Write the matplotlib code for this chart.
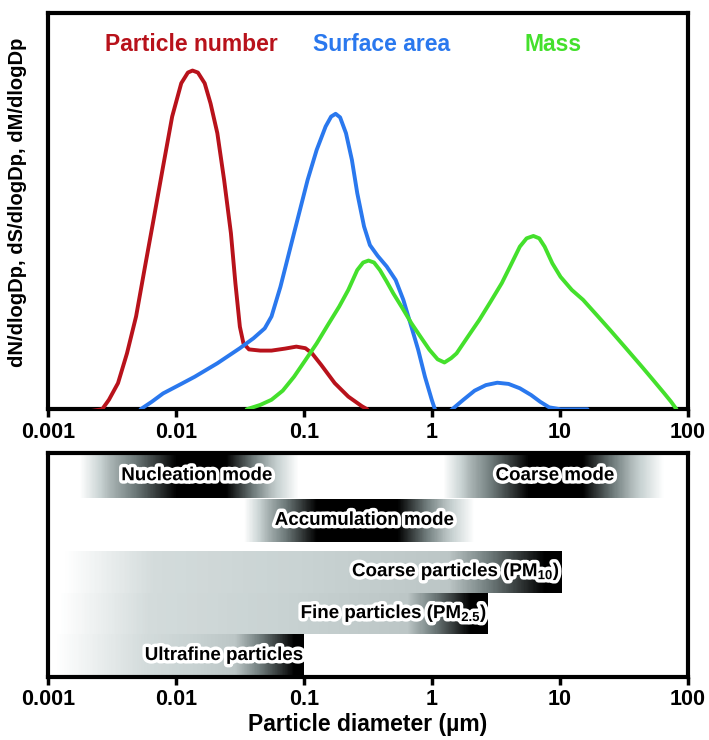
import numpy as np
import matplotlib
matplotlib.use('Agg')
import matplotlib.pyplot as plt
from matplotlib.colors import LinearSegmentedColormap
import matplotlib.patheffects as pe

plt.rcParams['font.family'] = ['Liberation Sans', 'DejaVu Sans']
plt.rcParams['font.weight'] = 'bold'
plt.rcParams['mathtext.fontset'] = 'custom'
plt.rcParams['mathtext.rm'] = 'Liberation Sans:bold'
plt.rcParams['mathtext.it'] = 'Liberation Sans:bold'
plt.rcParams['mathtext.bf'] = 'Liberation Sans:bold'
plt.rcParams['mathtext.default'] = 'rm'

# ---------------- data ----------------
tick_values = [0.001, 0.01, 0.1, 1, 10, 100]
tick_labels = ['0.001', '0.01', '0.1', '1', '10', '100']

series_names = ['Particle number', 'Surface area', 'Mass']
series_colors = ['#b8121b', '#2a78ee', '#44e02c']
series_label_x = [0.0131, 0.40, 8.8]

# log10(Dp, µm) and relative height
number_logdp = [-2.700, -2.577, -2.524, -2.453, -2.383, -2.312, -2.242, -2.171, -2.101,
                -2.030, -1.959, -1.907, -1.871, -1.829, -1.776, -1.730, -1.677, -1.624,
                -1.571, -1.536, -1.501, -1.473, -1.430, -1.342, -1.254, -1.148, -1.060,
                -0.989, -0.937, -0.866, -0.760, -0.654, -0.549, -0.506]
number_y = [-0.006, 0.000, 0.024, 0.066, 0.141, 0.234, 0.360, 0.486, 0.612,
            0.738, 0.822, 0.849, 0.854, 0.849, 0.822, 0.771, 0.696, 0.578,
            0.444, 0.318, 0.208, 0.166, 0.151, 0.148, 0.148, 0.153, 0.158,
            0.154, 0.141, 0.112, 0.066, 0.032, 0.008, 0.000]

surface_logdp = [-2.277, -2.189, -2.101, -1.959, -1.854, -1.677, -1.501, -1.395, -1.307,
                 -1.254, -1.184, -1.078, -0.972, -0.901, -0.831, -0.788, -0.753, -0.718,
                 -0.672, -0.626, -0.584, -0.531, -0.485, -0.425, -0.354, -0.284, -0.224,
                 -0.161, -0.108, -0.055, -0.002, 0.033, 0.122, 0.157, 0.245, 0.333,
                 0.421, 0.510, 0.598, 0.686, 0.774, 0.845, 0.915, 1.004, 1.215]
surface_y = [0.000, 0.019, 0.040, 0.064, 0.082, 0.116, 0.154, 0.179, 0.204,
             0.234, 0.309, 0.444, 0.578, 0.654, 0.713, 0.738, 0.745, 0.736,
             0.696, 0.629, 0.545, 0.461, 0.414, 0.387, 0.360, 0.326, 0.276,
             0.208, 0.150, 0.082, 0.024, -0.010, -0.010, 0.000, 0.024, 0.047,
             0.061, 0.067, 0.064, 0.053, 0.036, 0.019, 0.005, 0.000, 0.000]

mass_logdp = [-1.448, -1.342, -1.254, -1.166, -1.078, -0.989, -0.901, -0.813, -0.725,
              -0.654, -0.584, -0.538, -0.496, -0.453, -0.407, -0.354, -0.302, -0.231,
              -0.161, -0.090, -0.020, 0.044, 0.097, 0.150, 0.192, 0.280, 0.369,
              0.457, 0.545, 0.616, 0.686, 0.739, 0.792, 0.838, 0.880, 0.940,
              1.004, 1.092, 1.180, 1.286, 1.391, 1.515, 1.638, 1.727, 1.815,
              1.868, 1.910]
mass_y = [0.000, 0.011, 0.024, 0.047, 0.082, 0.124, 0.166, 0.213, 0.259,
          0.301, 0.351, 0.370, 0.375, 0.370, 0.351, 0.322, 0.292, 0.255,
          0.217, 0.183, 0.150, 0.126, 0.118, 0.129, 0.141, 0.183, 0.225,
          0.271, 0.318, 0.364, 0.410, 0.431, 0.437, 0.431, 0.410, 0.368,
          0.334, 0.301, 0.276, 0.238, 0.200, 0.154, 0.108, 0.074, 0.040,
          0.019, 0.000]

# size-range bands (lower panel)
band_labels = ['Nucleation mode', 'Coarse mode', 'Accumulation mode',
               'Coarse particles (PM$_{10}$)', 'Fine particles (PM$_{2.5}$)',
               'Ultrafine particles']
band_kind = ['mode', 'mode', 'mode', 'cumulative', 'cumulative', 'cumulative']
band_start = [0.00177, 1.22, 0.034, 0.00133, 0.00122, 0.00113]
band_dark_start = [0.0101, 5.7, 0.126, 1.35, 0.64, 0.029]
band_dark_end = [0.0247, 15.1, 0.54, 7.6, 2.0, 0.084]
band_end = [0.091, 65.0, 2.15, 10.3, 2.74, 0.1]
band_bottom = [0.80, 0.80, 0.603, 0.375, 0.19, 0.0]
band_top = [1.0, 1.0, 0.797, 0.565, 0.375, 0.19]
band_label_x = [0.0145, 9.1, 0.295, 10.0, 2.70, 0.098]
band_label_ha = ['center', 'center', 'center', 'right', 'right', 'right']

# ---------------- figure ----------------
fig = plt.figure(figsize=(7.09, 7.40), dpi=100)
ax1 = fig.add_axes([0.0677, 0.4469, 0.9027, 0.5360])
ax2 = fig.add_axes([0.0677, 0.0855, 0.9027, 0.3018])

for ax in (ax1, ax2):
    ax.set_xscale('log')
    ax.set_xlim(0.001, 100)
    ax.set_xticks(tick_values, tick_labels)
    ax.minorticks_off()
    ax.set_yticks([])
    ax.tick_params(axis='x', direction='out', length=6, width=2.5,
                   labelsize=15.5, pad=3)
    for s in ax.spines.values():
        s.set_linewidth(3)
    for lab in ax.get_xticklabels():
        lab.set_fontweight('bold')

# upper panel curves
ax1.set_ylim(0, 1)
for lx, yy, col in [(number_logdp, number_y, series_colors[0]),
                    (surface_logdp, surface_y, series_colors[1]),
                    (mass_logdp, mass_y, series_colors[2])]:
    ax1.plot(10 ** np.asarray(lx), yy, color=col, lw=2.8,
             solid_joinstyle='round', solid_capstyle='round', zorder=3)

for name, col, xx in zip(series_names, series_colors, series_label_x):
    ax1.text(xx, 0.92, name, color=col, fontsize=16.5, fontweight='bold',
             ha='center', va='center')

fig.text(0.024, 0.726, 'dN/dlogDp, dS/dlogDp, dM/dlogDp', rotation=90,
         fontsize=14.5, fontweight='bold', ha='center', va='center')

# lower panel bands
ax2.set_ylim(0, 1)
cmap = LinearSegmentedColormap.from_list(
    'band', [(0.0, '#ffffff'), (0.25, '#c8d2d2'), (0.6, '#6e7a7a'), (1.0, '#000000')])

for i in range(len(band_labels)):
    s = np.log10(band_start[i]); ds = np.log10(band_dark_start[i])
    de = np.log10(band_dark_end[i]); e = np.log10(band_end[i])
    edges = np.linspace(s, e, 401)
    centers = 0.5 * (edges[1:] + edges[:-1])
    if band_kind[i] == 'mode':
        cp = [s, s + 0.3 * (ds - s), ds, de, de + 0.6 * (e - de), e]
        cv = [0.0, 0.35, 1.0, 1.0, 0.35, 0.0]
    else:
        cp = [s, s + 0.7, ds, de, e]
        cv = [0.0, 0.2, 0.3, 1.0, 1.0]
    v = np.interp(centers, cp, cv)
    ax2.pcolormesh(10 ** edges, [band_bottom[i], band_top[i]], v[np.newaxis, :],
                   cmap=cmap, vmin=0, vmax=1, shading='flat', zorder=1)

for i in range(len(band_labels)):
    yc = 0.5 * (band_bottom[i] + band_top[i])
    ax2.text(band_label_x[i], yc, band_labels[i], fontsize=13.5, fontweight='bold',
             ha=band_label_ha[i], va='center', color='black', zorder=4,
             path_effects=[pe.withStroke(linewidth=5, foreground='white')])

ax2.set_xlabel('Particle diameter (µm)', fontsize=16.5, fontweight='bold', labelpad=2)

fig.savefig('out.png', dpi=100)
